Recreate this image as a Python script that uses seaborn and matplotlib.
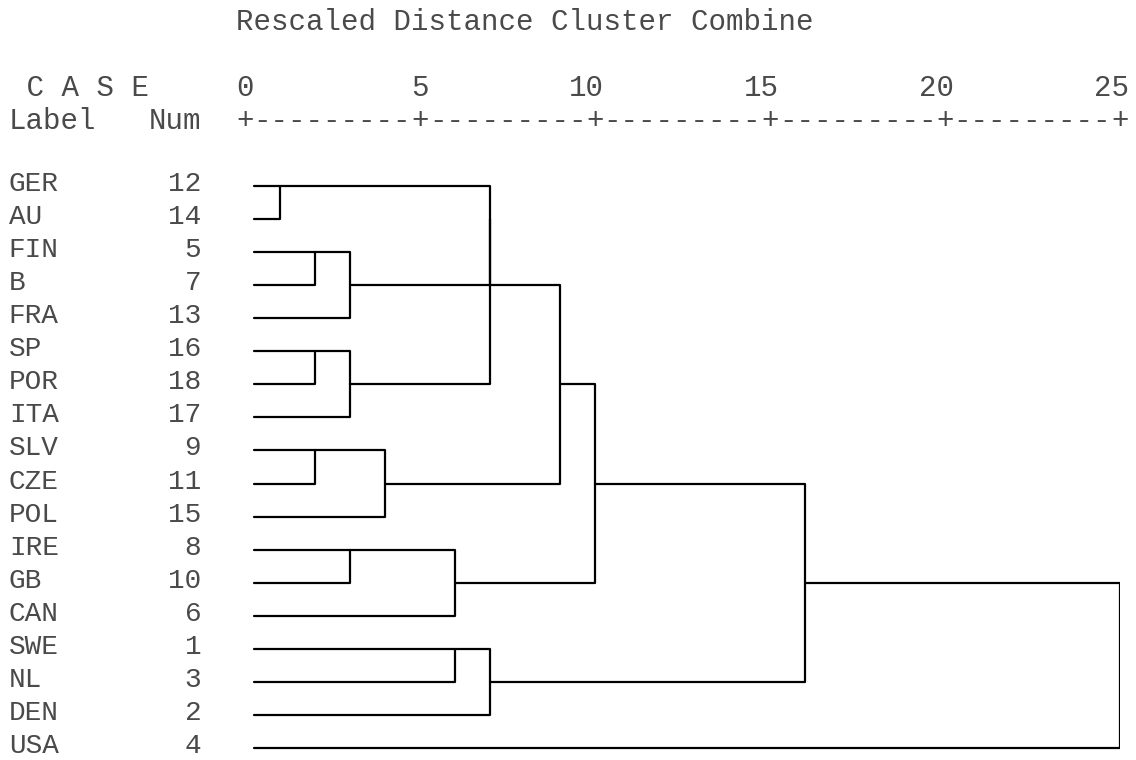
import numpy as np
import pandas as pd
import matplotlib
matplotlib.use("Agg")
import matplotlib.pyplot as plt
import seaborn as sns

# --- DATOS ---
# casos en el orden del dendrograma (de arriba a abajo)
case_labels = ["GER", "AU", "FIN", "B", "FRA", "SP", "POR", "ITA", "SLV",
               "CZE", "POL", "IRE", "GB", "CAN", "SWE", "NL", "DEN", "USA"]
case_nums = [12, 14, 5, 7, 13, 16, 18, 17, 9, 11, 15, 8, 10, 6, 1, 3, 2, 4]

# fusiones: cluster a + cluster b a la distancia reescalada (0-25)
# ids 0-17 = casos, 18.. = clusters nuevos en orden de fusion
merge_a = [0, 2, 5, 8, 19, 20, 11, 21, 24, 14, 18, 28, 27, 29, 31, 32, 33]
merge_b = [1, 3, 6, 9, 4, 7, 12, 10, 13, 15, 22, 23, 16, 25, 26, 30, 17]
merge_dist = [1, 2, 2, 2, 3, 3, 3, 4, 6, 6, 7, 7, 7, 9, 10, 16, 25]

axis_ticks = [0, 5, 10, 15, 20, 25]

# --- ESTILO ---
FONT = "Liberation Mono"
FS = 21              # cabecera
FS_ROW = 20          # etiquetas de casos
TXT_COLOR = "#4a4a4a"
LEAF_PAD = 0.27      # las hojas empiezan media columna a la derecha del 0
BASE = 0.28          # desplazamiento de la linea base (cabecera)
BASE_ROW = 0.15      # desplazamiento de la linea base (casos)
CHAR = 0.25          # media columna de texto en unidades del eje

sns.set_theme(style="white")

# --- SEGMENTOS DEL DENDROGRAMA (estilo SPSS) ---
row = list(range(len(case_labels)))
xpos = [LEAF_PAD] * len(case_labels)
recs = []
for k, (a, b, d) in enumerate(zip(merge_a, merge_b, merge_dist)):
    pts = [(xpos[a], row[a]), (d, row[a]), (d, row[b]), (xpos[b], row[b])]
    for i, (px, py) in enumerate(pts):
        recs.append({"seg": k, "order": i, "x": px, "y": py})
    row.append((row[a] + row[b]) // 2)
    xpos.append(d)
df = pd.DataFrame(recs)

fig = plt.figure(figsize=(11.36, 7.6), dpi=100)
ax = fig.add_axes([245 / 1136, 0, 875 / 1136, 1])

sns.lineplot(data=df, x="x", y="y", units="seg", estimator=None, sort=False,
             color="black", linewidth=1.6, ax=ax, legend=False)

ax.set_xlim(0, 25)
ax.set_ylim(17.362, -5.626)
ax.axis("off")

def txt(x, y, s, ha="left", fs=FS, base=BASE):
    ax.text(x, y + base, s, ha=ha, va="baseline", fontsize=fs,
            family=FONT, color=TXT_COLOR, clip_on=False)

# cabecera
txt(-CHAR, -5, "Rescaled Distance Cluster Combine")
txt(-6.75, -3, " C A S E")
txt(-6.75, -2, "Label")
txt(-1.25, -2, "Num", ha="right")
for i, t in enumerate(axis_ticks):
    txt(t + CHAR, -3, str(t), ha="right")
    txt(t, -2, "+", ha="center")
    if i < len(axis_ticks) - 1:
        txt(t + 2.5, -2, "-" * 9, ha="center")

# etiquetas de los casos
for r, (lab, num) in enumerate(zip(case_labels, case_nums)):
    txt(-6.75, r, lab, fs=FS_ROW, base=BASE_ROW)
    txt(-1.25, r, str(num), ha="right", fs=FS_ROW, base=BASE_ROW)

fig.savefig("out.png", dpi=100, facecolor="white")
plt.close(fig)
